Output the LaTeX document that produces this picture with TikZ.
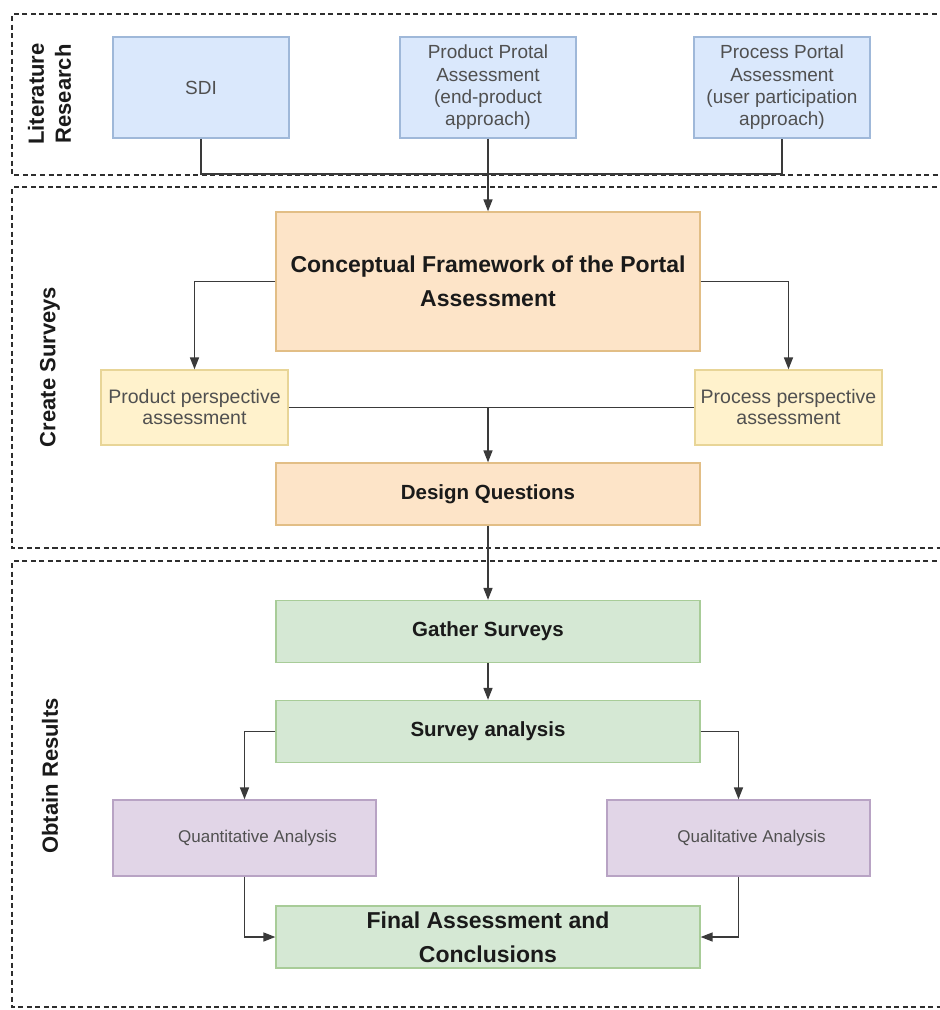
\documentclass[tikz,border=0pt]{standalone}
\usepackage{fontspec}
\setmainfont{Liberation Sans}
\usetikzlibrary{arrows.meta}
\definecolor{bluefill}{HTML}{DAE8FC}
\definecolor{blueline}{HTML}{9FB8D9}
\definecolor{orfill}{HTML}{FDE4C8}
\definecolor{orline}{HTML}{E2BE86}
\definecolor{yefill}{HTML}{FFF2CC}
\definecolor{yeline}{HTML}{E8D597}
\definecolor{grfill}{HTML}{D5E8D4}
\definecolor{grline}{HTML}{A8CC98}
\definecolor{pufill}{HTML}{E1D5E7}
\definecolor{puline}{HTML}{B8A3C4}
\definecolor{conn}{HTML}{3A3A3A}
\definecolor{dash}{HTML}{2E2E2E}
\definecolor{boldtext}{HTML}{1A1A1A}
\definecolor{graytext}{HTML}{505050}
\tikzset{
  box/.style={draw, line width=1.3pt, inner sep=0pt, align=center, anchor=center},
  bluebox/.style={box, fill=bluefill, draw=blueline, minimum width=176pt, minimum height=101pt,
    text=graytext, font=\fontsize{19}{22.3}\selectfont},
  orbox/.style={box, fill=orfill, draw=orline, minimum width=424pt, text=boldtext},
  yebox/.style={box, fill=yefill, draw=yeline, minimum width=187pt, minimum height=75pt,
    text=graytext, font=\fontsize{19.5}{21}\selectfont},
  grbox/.style={box, fill=grfill, draw=grline, minimum width=424pt, minimum height=62pt, text=boldtext},
  pubox/.style={box, fill=pufill, draw=puline, minimum width=263pt, minimum height=76pt,
    text=graytext, font=\fontsize{17}{20}\selectfont},
  bigbold/.style={font=\fontsize{23}{34}\selectfont\bfseries},
  onebold/.style={font=\fontsize{20.5}{24}\selectfont\bfseries},
  seclabel/.style={rotate=90, align=center, text=boldtext, font=\fontsize{22}{27}\selectfont\bfseries},
  secline/.style={draw=dash, line width=2pt, dash pattern=on 5pt off 3.5pt},
  link/.style={draw=conn, line width=1.5pt},
  arr/.style={link, -{Triangle[length=12pt,width=9pt]}}
}
\begin{document}
\begin{tikzpicture}[x=1pt,y=-1pt]
\clip (0,0) rectangle (940,1010);
\fill[white] (0,0) rectangle (940,1010);
% section frames
\draw[secline] (945,14) -- (12,14) -- (12,175) -- (945,175);
\draw[secline] (945,187) -- (12,187) -- (12,548) -- (945,548);
\draw[secline] (945,561) -- (12,561) -- (12,1007) -- (945,1007);
% section labels
\node[seclabel] (lr) at (49.5,94) {Literature\\Research};
\node[seclabel] (cs) at (50,367) {Create Surveys};
\node[seclabel] (or) at (50,776) {Obtain Results};
% literature boxes
\node[bluebox] (sdi) at (201,87.5) {SDI};
\node[bluebox] (pp) at (488,87.5) {Product Protal\\Assessment\\(end-product\\approach)};
\node[bluebox] (proc) at (782,87.5) {Process Portal\\Assessment\\(user participation\\approach)};
% create surveys
\node[orbox, minimum height=139pt, bigbold] (cf) at (488,281.5) {Conceptual Framework of the Portal\\Assessment};
\node[yebox] (prodp) at (194.5,407.5) {Product perspective\\assessment};
\node[yebox] (procp) at (788.5,407.5) {Process perspective\\assessment};
\node[orbox, minimum height=62pt, onebold] (dq) at (488,494) {Design Questions};
% obtain results
\node[grbox, onebold] (gs) at (488,631.5) {Gather Surveys};
\node[grbox, onebold] (sa) at (488,731.5) {Survey analysis};
\node[pubox] (quant) at (244.5,838) {\hspace*{26pt}Quantitative Analysis};
\node[pubox] (qual) at (738.5,838) {\hspace*{26pt}Qualitative Analysis};
\node[grbox, bigbold] (fin) at (488,937) {Final Assessment and\\Conclusions};
% connectors
\coordinate (j1) at (488,174);
\coordinate (j2) at (488,408);
\draw[link] (sdi.south) |- (j1) -| (proc.south);
\draw[link] (pp.south) -- (j1);
\draw[arr] (j1) -- (cf.north);
\draw[arr] (cf.west) -| (prodp.north);
\draw[arr] (cf.east) -| (procp.north);
\draw[link] (prodp.east) -- (procp.west);
\draw[arr] (j2) -- (dq.north);
\draw[arr] (dq.south) -- (gs.north);
\draw[arr] (gs.south) -- (sa.north);
\draw[arr] (sa.west) -| (quant.north);
\draw[arr] (sa.east) -| (qual.north);
\draw[arr] (quant.south) |- (fin.west);
\draw[arr] (qual.south) |- (fin.east);
\end{tikzpicture}
\end{document}
